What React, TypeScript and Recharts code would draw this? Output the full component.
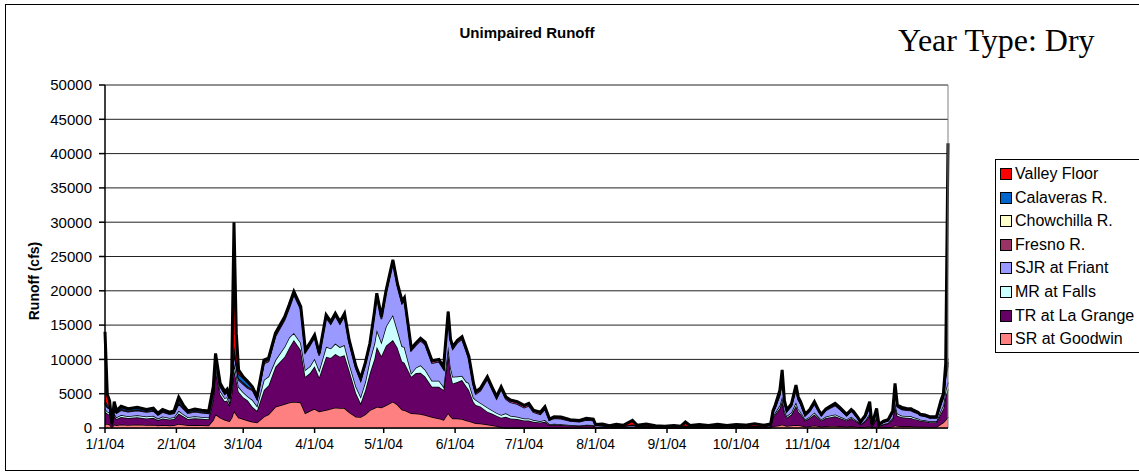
import React from 'react';
import { AreaChart, Area, XAxis, YAxis, CartesianGrid, ReferenceLine } from 'recharts';

// day of year 2004 (0 = 1/1/04), values in cfs
const days = [
  0, 1, 2, 3, 4, 5, 7, 10, 14, 18,
  21, 23, 25, 28, 30, 32, 34, 36, 39, 42,
  45, 47, 48, 50, 52, 53, 54, 55, 56, 57,
  58, 60, 62, 64, 66, 69, 71, 74, 78, 80,
  82, 85, 87, 89, 91, 93, 96, 98, 100, 102,
  104, 106, 109, 111, 113, 115, 117, 118, 120, 122,
  125, 127, 129, 130, 133, 135, 137, 139, 142, 145,
  147, 149, 150, 151, 153, 155, 157, 158, 160, 161,
  163, 166, 168, 170, 172, 174, 176, 179, 182, 184,
  186, 189, 191, 193, 195, 198, 202, 206, 209, 212,
  213, 216, 219, 222, 225, 229, 231, 235, 239, 243,
  247, 250, 252, 254, 258, 262, 266, 270, 274, 278,
  282, 286, 289, 290, 291, 293, 294, 295, 296, 298,
  300, 301, 302, 304, 306, 308, 310, 311, 313, 315,
  317, 319, 322, 324, 325, 327, 328, 330, 332, 333,
  335, 336, 338, 340, 342, 343, 344, 346, 348, 350,
  351, 353, 354, 356, 358, 361, 363, 364, 365, 366,
];

const srGoodwin = [
  600, 600, 500, 100, 500, 400, 500, 450, 500, 450,
  480, 350, 450, 380, 400, 600, 500, 400, 420, 400,
  380, 1200, 2000, 1500, 1200, 1100, 1000, 1500, 2500, 2000,
  1500, 1300, 1100, 900, 800, 1650, 2000, 3100, 3500, 3700,
  3840, 3700, 2140, 2500, 2800, 2400, 2620, 2800, 3000, 2900,
  2900, 2300, 1650, 1600, 2000, 2600, 2900, 3100, 3000, 3300,
  3840, 3400, 2700, 2600, 2140, 2100, 2050, 1900, 1600, 1400,
  1170, 2200, 1700, 1400, 1400, 1300, 1100, 1000, 800, 700,
  650, 500, 400, 300, 100, 0, 0, 0, 0, 0,
  0, 0, 0, 0, 0, 0, 0, 0, 0, 0,
  0, 0, 0, 0, 0, 0, 0, 0, 0, 0,
  0, 0, 0, 0, 0, 0, 0, 0, 0, 0,
  0, 0, 50, 250, 300, 400, 500, 400, 300, 350,
  450, 400, 350, 200, 250, 350, 250, 200, 250, 280,
  300, 250, 200, 250, 220, 150, 100, 150, 250, 50,
  200, 50, 80, 100, 200, 400, 300, 250, 250, 250,
  230, 200, 180, 170, 150, 150, 600, 800, 1200, 1650,
];

const trLaGrange = [
  1800, 1500, 1400, 300, 1300, 900, 1100, 1000, 1050, 950,
  1000, 800, 950, 850, 900, 1500, 1200, 900, 1000, 950,
  900, 3000, 6500, 3400, 2700, 2900, 2300, 3500, 6000, 5000,
  3800, 3200, 2900, 2200, 1700, 3900, 4200, 5840, 6900, 8000,
  9000, 7670, 5340, 5500, 6200, 5000, 7780, 7400, 7800, 7500,
  7700, 6160, 3400, 2000, 3500, 5400, 7200, 8750, 7500, 8700,
  9000, 8300, 7000, 6900, 5340, 5900, 6000, 5600, 4400, 4600,
  4370, 8800, 6300, 5100, 5300, 5700, 4900, 4540, 3000, 2650,
  2500, 1880, 1700, 1500, 1400, 1650, 1400, 1300, 1100, 1100,
  900, 800, 900, 450, 500, 450, 350, 300, 400, 350,
  150, 150, 100, 150, 120, 200, 120, 150, 100, 80,
  100, 80, 150, 100, 120, 100, 120, 100, 120, 100,
  120, 100, 200, 1300, 1700, 2500, 3500, 1800, 1200, 1600,
  2800, 2000, 1700, 900, 1200, 1600, 1100, 900, 1200, 1300,
  1400, 1200, 900, 1200, 1000, 650, 400, 800, 1600, 200,
  1200, 200, 450, 550, 1100, 2800, 1500, 1300, 1250, 1200,
  1100, 1000, 850, 800, 700, 700, 1600, 2000, 3500, 4000,
];

const mrFalls = [
  400, 300, 300, 50, 300, 250, 300, 280, 300, 280,
  290, 220, 280, 240, 250, 400, 320, 260, 280, 260,
  250, 400, 600, 500, 450, 500, 400, 600, 1000, 800,
  700, 700, 600, 1000, 700, 1450, 1300, 960, 1450, 1500,
  1000, 1030, 980, 1000, 1100, 1000, 1450, 1400, 1500, 1400,
  1500, 970, 970, 960, 1200, 1900, 2200, 2440, 2000, 2800,
  3640, 2500, 2200, 2300, 500, 800, 1100, 1000, 900, 900,
  480, 900, 900, 980, 800, 600, 700, 1020, 600, 730,
  500, 620, 500, 400, 400, 490, 400, 350, 300, 300,
  250, 200, 250, 100, 120, 100, 80, 70, 80, 80,
  30, 20, 20, 20, 20, 30, 20, 20, 20, 10,
  20, 10, 20, 20, 20, 20, 20, 20, 20, 20,
  20, 20, 30, 200, 250, 400, 600, 300, 250, 300,
  500, 350, 300, 150, 200, 300, 200, 150, 220, 250,
  280, 230, 150, 200, 180, 100, 50, 100, 250, 30,
  200, 30, 70, 80, 200, 500, 300, 250, 250, 250,
  230, 200, 170, 160, 140, 140, 400, 500, 800, 1000,
];

const sjrFriant = [
  700, 600, 600, 100, 700, 600, 700, 650, 700, 650,
  700, 500, 650, 550, 600, 1000, 800, 600, 650, 600,
  580, 600, 800, 600, 550, 700, 500, 800, 1500, 1200,
  1000, 1200, 1200, 1400, 1000, 2400, 2200, 3450, 3900, 4300,
  5600, 4900, 2550, 3050, 3100, 2150, 4250, 3550, 4050, 3350,
  4250, 3050, 2600, 2380, 2500, 2150, 4350, 5000, 3380, 4850,
  7650, 6450, 6250, 6850, 3300, 3250, 3580, 3650, 2550, 2750,
  2560, 4700, 3750, 4030, 4950, 5350, 4350, 3490, 1750, 870,
  1800, 4130, 3050, 2050, 3750, 2070, 1930, 1840, 1550, 1850,
  1150, 1000, 1600, 600, 800, 800, 600, 550, 700, 650,
  200, 150, 100, 150, 120, 200, 120, 150, 100, 80,
  100, 80, 150, 100, 120, 100, 120, 100, 120, 100,
  120, 100, 150, 500, 700, 1500, 2500, 1100, 650, 950,
  1900, 1350, 1150, 550, 800, 1250, 750, 550, 900, 1100,
  1300, 1050, 550, 800, 750, 400, 220, 500, 900, 120,
  800, 120, 250, 300, 700, 1900, 1000, 900, 850, 850,
  800, 700, 600, 570, 480, 480, 900, 1100, 2000, 2500,
];

const fresnoR = [
  150, 120, 100, 20, 100, 100, 120, 110, 110, 100,
  110, 80, 100, 90, 100, 150, 120, 100, 110, 100,
  100, 150, 200, 150, 130, 130, 100, 150, 300, 250,
  200, 200, 200, 150, 120, 200, 220, 250, 250, 280,
  280, 250, 220, 220, 230, 220, 250, 230, 240, 240,
  240, 240, 220, 200, 200, 210, 250, 250, 250, 250,
  270, 260, 260, 260, 240, 260, 260, 260, 260, 260,
  240, 270, 260, 260, 260, 260, 260, 260, 260, 260,
  260, 260, 260, 260, 260, 260, 260, 260, 260, 260,
  220, 220, 250, 100, 150, 150, 120, 120, 150, 150,
  60, 50, 40, 50, 40, 50, 40, 40, 30, 30,
  30, 30, 40, 30, 30, 30, 30, 30, 30, 30,
  30, 30, 40, 100, 120, 150, 200, 150, 100, 120,
  150, 130, 120, 80, 100, 120, 80, 80, 100, 100,
  120, 100, 80, 100, 90, 60, 40, 80, 100, 30,
  100, 30, 50, 60, 100, 150, 100, 100, 100, 100,
  100, 80, 80, 80, 70, 70, 150, 200, 300, 400,
];

const chowchillaR = [
  80, 60, 50, 10, 50, 40, 50, 50, 50, 50,
  50, 40, 50, 40, 40, 60, 50, 40, 50, 40,
  40, 60, 80, 60, 50, 50, 40, 60, 100, 80,
  70, 70, 60, 50, 40, 60, 60, 80, 80, 80,
  80, 70, 60, 60, 60, 60, 70, 70, 70, 70,
  70, 70, 60, 60, 60, 60, 70, 70, 70, 70,
  70, 70, 70, 70, 60, 70, 70, 70, 70, 70,
  60, 70, 70, 60, 70, 70, 70, 70, 70, 70,
  70, 70, 70, 70, 70, 70, 70, 70, 70, 70,
  60, 60, 70, 30, 40, 40, 30, 30, 30, 30,
  20, 10, 10, 10, 10, 10, 10, 10, 10, 10,
  10, 10, 10, 10, 10, 10, 10, 10, 10, 10,
  10, 10, 10, 30, 30, 40, 50, 40, 30, 30,
  40, 40, 30, 20, 30, 30, 20, 20, 30, 30,
  30, 30, 20, 30, 20, 20, 10, 20, 30, 10,
  30, 10, 10, 20, 30, 40, 30, 30, 30, 30,
  30, 20, 20, 20, 20, 20, 30, 40, 60, 80,
];

const calaverasR = [
  300, 250, 200, 50, 200, 150, 200, 180, 180, 150,
  170, 120, 150, 120, 140, 300, 200, 140, 170, 150,
  140, 300, 400, 200, 150, 180, 100, 300, 600, 500,
  600, 600, 500, 200, 150, 150, 150, 120, 100, 100,
  60, 50, 50, 50, 50, 50, 40, 30, 30, 30,
  30, 30, 30, 30, 30, 20, 20, 20, 20, 20,
  20, 10, 10, 10, 10, 10, 10, 10, 10, 10,
  10, 10, 10, 10, 10, 10, 10, 10, 10, 10,
  10, 10, 10, 10, 10, 10, 10, 10, 10, 10,
  10, 10, 10, 10, 10, 10, 10, 10, 10, 10,
  10, 10, 10, 10, 10, 10, 10, 10, 10, 10,
  10, 10, 10, 10, 10, 10, 10, 10, 10, 10,
  10, 10, 10, 50, 100, 200, 300, 150, 50, 100,
  200, 150, 120, 60, 70, 120, 60, 60, 60, 80,
  100, 80, 60, 70, 80, 60, 50, 80, 200, 30,
  150, 30, 50, 50, 100, 300, 70, 100, 80, 70,
  70, 60, 60, 60, 50, 50, 200, 200, 400, 500,
];

const valleyFloor = [
  10000, 1500, 800, 50, 700, 100, 200, 100, 120, 80,
  100, 50, 80, 50, 70, 500, 150, 60, 100, 80,
  80, 300, 300, 100, 80, 90, 60, 1100, 18000, 4000,
  600, 200, 200, 100, 90, 90, 70, 50, 50, 40,
  40, 30, 30, 20, 20, 20, 20, 20, 10, 10,
  10, 10, 10, 10, 10, 10, 10, 10, 10, 10,
  10, 10, 10, 10, 10, 10, 10, 10, 10, 10,
  10, 10, 10, 10, 10, 10, 10, 10, 10, 10,
  10, 10, 10, 10, 10, 10, 10, 10, 10, 10,
  10, 10, 20, 10, 30, 50, 10, 20, 30, 30,
  30, 200, 50, 150, 80, 600, 100, 200, 60, 40,
  100, 40, 500, 100, 200, 100, 250, 80, 200, 150,
  300, 150, 100, 70, 150, 310, 810, 60, 20, 50,
  230, 80, 70, 40, 50, 70, 40, 40, 40, 60,
  70, 60, 40, 50, 60, 60, 50, 70, 510, 30,
  180, 30, 40, 40, 70, 410, 50, 70, 50, 50,
  40, 40, 40, 40, 40, 40, 200, 160, 1170, 31370,
];

const monthTicks = [0, 31, 60, 91, 121, 152, 182, 213, 244, 274, 305, 335];
const monthLabels = ['1/1/04', '2/1/04', '3/1/04', '4/1/04', '5/1/04', '6/1/04', '7/1/04', '8/1/04', '9/1/04', '10/1/04', '11/1/04', '12/1/04'];
const yTicks = [0, 5000, 10000, 15000, 20000, 25000, 30000, 35000, 40000, 45000, 50000];

// bottom of the stack first
const series = [
  { key: 'sr', name: 'SR at Goodwin', color: '#FF8080', values: srGoodwin },
  { key: 'tr', name: 'TR at La Grange', color: '#660066', values: trLaGrange },
  { key: 'mr', name: 'MR at Falls', color: '#CCFFFF', values: mrFalls },
  { key: 'sjr', name: 'SJR at Friant', color: '#9999FF', values: sjrFriant },
  { key: 'fresno', name: 'Fresno R.', color: '#993366', values: fresnoR },
  { key: 'chow', name: 'Chowchilla R.', color: '#FFFFCC', values: chowchillaR },
  { key: 'cal', name: 'Calaveras R.', color: '#0066CC', values: calaverasR },
  { key: 'vf', name: 'Valley Floor', color: '#FF0000', values: valleyFloor },
];

const chartData = days.map((day, i) => {
  const row: any = { day };
  series.forEach(s => {
    row[s.key] = s.values[i];
  });
  return row;
});

const sans = '"Liberation Sans", Arial, sans-serif';

export default function App() {
  return (
    <div style={{ position: 'absolute', left: 0, top: 0, width: 1139, height: 476, overflow: 'hidden', background: '#fff', fontFamily: sans }}>
      <div style={{ position: 'absolute', left: 5, top: 4, width: 1150, height: 465, border: '1px solid #000' }} />

      <div style={{ position: 'absolute', left: 327, width: 400, top: 24, textAlign: 'center', fontSize: 15, fontWeight: 'bold' }}>
        Unimpaired Runoff
      </div>
      <div style={{ position: 'absolute', left: 898, top: 22, fontFamily: '"Liberation Serif", "Times New Roman", serif', fontSize: 32, whiteSpace: 'nowrap' }}>
        Year Type: Dry
      </div>

      <div style={{ position: 'absolute', left: 34, top: 281, transform: 'translate(-50%, -50%) rotate(-90deg)', fontSize: 14, fontWeight: 'bold', whiteSpace: 'nowrap' }}>
        Runoff (cfs)
      </div>

      <AreaChart
        width={1139}
        height={476}
        data={chartData}
        margin={{ top: 85, right: 191, bottom: 18, left: 45 }}
      >
        <CartesianGrid vertical={false} stroke="#222" />
        <XAxis
          type="number"
          dataKey="day"
          domain={[0, 366]}
          ticks={monthTicks}
          interval={0}
          tickFormatter={(v: number) => monthLabels[monthTicks.indexOf(v)]}
          height={30}
          tickSize={5}
          tickMargin={6}
          stroke="#000"
          strokeWidth={1.5}
          tick={{ fill: '#000', fontSize: 14, fontFamily: sans }}
        />
        <YAxis
          domain={[0, 50000]}
          ticks={yTicks}
          interval={0}
          width={60}
          tickSize={6}
          tickMargin={7}
          stroke="#000"
          strokeWidth={1.5}
          tick={{ fill: '#000', fontSize: 15, fontFamily: sans }}
        />
        <ReferenceLine x={366} stroke="#808080" />
        {series.map(s => (
          <Area
            key={s.key}
            type="linear"
            dataKey={s.key}
            name={s.name}
            stackId="runoff"
            stroke="#000"
            strokeWidth={s.key === 'vf' ? 3 : 1.5}
            fill={s.color}
            fillOpacity={1}
            dot={false}
            activeDot={false}
            isAnimationActive={false}
          />
        ))}
      </AreaChart>

      <div style={{ position: 'absolute', left: 995, top: 159, width: 200, height: 192, border: '1px solid #000', background: '#fff' }}>
        {[...series].reverse().map((s, i) => (
          <div key={s.key} style={{ position: 'absolute', left: 4, top: 5 + i * 23.6, display: 'flex', alignItems: 'center', fontSize: 16, whiteSpace: 'nowrap' }}>
            <span style={{ display: 'inline-block', width: 10, height: 10, border: '1px solid #000', background: s.color, marginRight: 3 }} />
            {s.name}
          </div>
        ))}
      </div>
    </div>
  );
}
